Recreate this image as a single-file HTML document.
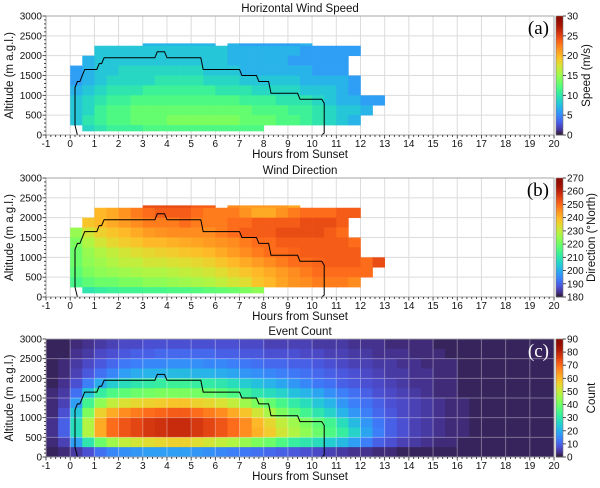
<!DOCTYPE html>
<html><head><meta charset="utf-8"><style>
body{margin:0;background:#fff}
svg{display:block;font-family:"Liberation Sans","DejaVu Sans",sans-serif}
</style></head><body>
<svg id="c" width="600" height="488" viewBox="0 0 600 488" xmlns="http://www.w3.org/2000/svg"></svg>
<script>
const xTicks=[-1,0,1,2,3,4,5,6,7,8,9,10,11,12,13,14,15,16,17,18,19,20];
const yTicks=[0,500,1000,1500,2000,2500,3000];
const rowAlts=[2250,2000,1750,1500,1250,1000,750,500,250,0];
const abColStart=0;
const speedRows=[
[null,null,null,null,null,null,7,7,7,7,7,7,null,7,6,6,6,6,6,7,null,null,null,null,null,null],
[null,null,8,8,8,8,8,8,8,8,8,8,8,7,7,7,7,7,7,6,6,6,6,6,null,null],
[null,7,8,8,8,8,8,8,8,8,8,8,8,7,7,7,7,7,6,6,6,6,6,null,null,null],
[6,7,8,8,9,9,9,9,9,9,9,8,8,8,7,7,7,7,7,7,6,6,6,null,null,null],
[6,7,8,9,9,9,9,10,10,10,10,9,9,9,8,8,8,8,8,7,7,7,7,6,null,null],
[7,8,9,10,10,10,11,11,11,11,11,11,10,10,10,9,9,9,9,8,8,8,7,6,null,null],
[8,9,10,11,11,12,12,12,12,12,12,12,12,12,11,11,11,10,10,10,9,8,7,7,6,6],
[8,9,11,12,12,13,13,13,13,13,13,13,13,13,13,12,12,12,11,11,10,9,8,8,7,null],
[8,10,11,12,12,13,13,13,14,14,14,14,14,14,13,13,13,12,12,11,10,9,8,7,null,null],
[null,9,10,11,11,11,12,12,12,12,12,12,12,12,12,12,null,null,null,null,null,null,null,null,null,null]];
const dirRows=[
[null,null,null,null,null,null,254,254,254,254,252,252,null,246,244,244,244,244,242,null,null,null,null,null,null,null],
[null,null,240,242,245,248,250,252,252,252,250,248,248,248,245,242,242,245,248,250,250,250,252,252,null,null],
[null,238,240,242,244,246,248,248,248,250,248,248,248,250,250,252,252,252,252,254,254,254,252,null,null,null],
[225,232,236,238,240,242,244,245,246,246,246,246,248,250,252,252,252,254,254,254,254,252,250,null,null,null],
[222,228,232,235,237,238,240,240,241,242,243,244,245,246,248,250,250,252,252,252,252,252,252,250,null,null],
[220,225,228,230,232,234,235,236,237,238,239,240,242,244,246,248,250,250,251,252,252,252,252,252,null,null],
[220,224,226,228,230,230,232,232,233,234,235,236,238,240,242,244,246,248,250,250,251,252,252,252,250,254],
[218,222,224,225,226,227,228,228,229,230,231,232,234,236,238,240,242,244,246,248,250,250,250,250,250,null],
[215,218,220,220,222,222,224,224,225,226,227,228,230,232,234,238,240,243,245,246,248,248,248,246,null,null],
[null,210,212,213,214,214,215,215,216,216,217,218,219,220,222,224,null,null,null,null,null,null,null,null,null,null]];
const countRowAlts=[2750,2500,2250,2000,1750,1500,1250,1000,750,500,250,0];
const countColStart=-1;
const countRows=[
[2,2,3,4,5,6,7,7,8,8,8,8,8,8,8,8,7,7,6,6,6,6,5,5,5,4,4,4,3,3,3,3,2,2,2,2,2,2,2,2,2,2],
[2,2,4,5,7,8,9,10,10,11,11,11,11,11,10,10,9,9,8,8,8,7,7,6,6,5,5,4,4,4,3,3,3,2,2,2,2,2,2,2,2,2],
[2,3,5,7,9,11,13,14,15,15,16,16,16,15,15,14,13,12,11,11,10,10,9,8,7,6,6,5,5,4,4,3,3,3,2,2,2,2,2,2,2,2],
[2,3,6,9,12,15,18,20,21,21,22,22,21,21,20,19,17,16,15,14,13,12,11,10,9,8,7,6,5,5,4,4,3,3,2,2,2,2,2,2,2,2],
[2,4,8,14,20,25,28,30,31,32,33,33,32,31,30,28,25,23,21,19,17,15,13,12,10,9,8,7,6,5,4,4,3,3,2,2,2,2,2,2,2,2],
[3,5,12,24,32,36,38,40,41,42,42,42,41,40,38,36,33,30,28,26,23,21,19,16,14,12,10,8,7,6,5,4,3,3,2,2,2,2,2,2,2,2],
[3,6,18,34,44,50,53,55,56,57,58,58,56,55,53,50,46,42,39,35,31,28,24,21,17,14,12,10,8,7,6,5,4,3,3,2,2,2,2,2,2,2],
[3,8,24,42,56,62,66,68,70,71,72,72,70,68,66,62,58,52,47,42,38,34,30,26,21,17,14,11,9,7,6,5,4,3,3,2,2,2,2,2,2,2],
[4,10,28,48,62,70,73,75,77,78,79,79,77,75,73,70,66,60,55,50,46,42,38,34,28,22,17,13,10,8,6,5,4,3,3,2,2,2,2,2,2,2],
[4,10,28,48,62,70,73,75,77,78,79,79,77,75,73,70,66,61,57,52,48,44,40,36,32,26,19,14,10,8,6,5,4,3,3,2,2,2,2,2,2,2],
[3,6,18,30,40,46,50,52,54,55,56,56,54,52,50,48,45,42,40,36,32,30,28,25,22,18,14,10,8,6,5,4,3,3,2,2,2,2,2,2,2,2],
[2,3,5,8,12,15,16,17,18,18,18,18,17,16,15,14,13,12,11,10,9,8,7,6,5,4,4,3,3,2,2,2,2,2,2,2,2,2,2,2,2,2]];
const contourHours=[0.3,0.2,0.2,0.3,0.4,0.6,1.1,1.2,1.3,1.4,3.5,3.6,3.9,4.0,5.4,5.5,7.0,7.1,7.7,7.8,8.2,8.3,9.4,9.5,10.4,10.5,10.5,10.4];
const contourAlts=[0,250,1200,1350,1350,1650,1650,1800,1800,1950,1950,2100,2100,1950,1950,1650,1650,1500,1500,1350,1350,1050,1050,900,900,800,50,0];
const speedTicks=[0,5,10,15,20,25,30];
const dirTicks=[180,190,200,210,220,230,240,250,260,270];
const countTicks=[0,10,20,30,40,50,60,70,80,90];

const NS="http://www.w3.org/2000/svg";
const svg=document.getElementById('c');
function el(tag,attrs,parent,text){const e=document.createElementNS(NS,tag);for(const k in attrs)e.setAttribute(k,attrs[k]);if(text!==undefined)e.textContent=text;(parent||svg).appendChild(e);return e;}
function turbo(t){t=Math.max(0,Math.min(1,t));
const r=0.13572138+t*(4.61539260+t*(-42.66032258+t*(132.13108234+t*(-152.94239396+t*59.28637943))));
const g=0.09140261+t*(2.19418839+t*(4.84296658+t*(-14.18503333+t*(4.27729857+t*2.82956604))));
const b=0.10667330+t*(12.64194608+t*(-60.58204836+t*(110.36276771+t*(-89.90310912+t*27.34824973))));
const c=v=>Math.round(Math.max(0,Math.min(1,v))*255);return `rgb(${c(r)},${c(g)},${c(b)})`;}
const X0=46,X1=554;
function xs(h){return X0+(h+1)*(X1-X0)/21;}
const panels=[
{key:'speed',title:'Horizontal Wind Speed',top:16,bot:135,rows:speedRows,alts:rowAlts,col0:abColStart,vmin:0,vmax:30,ticks:speedTicks,cbl:'Speed (m/s)',lab:'(a)',gridOver:false},
{key:'direction',title:'Wind Direction',top:178,bot:297,rows:dirRows,alts:rowAlts,col0:abColStart,vmin:180,vmax:270,ticks:dirTicks,cbl:'Direction (°North)',lab:'(b)',gridOver:false},
{key:'count',title:'Event Count',top:339,bot:457,rows:countRows,alts:countRowAlts,col0:countColStart,vmin:0,vmax:90,ticks:countTicks,cbl:'Count',lab:'(c)',gridOver:true}];
panels.forEach(p=>{
  const g=el('g',{});
  
  
  const ys=a=>p.bot-a*(p.bot-p.top)/3000;
  const t=el('text',{x:300,y:p.top-4,'text-anchor':'middle','font-size':11.5,fill:'#111'},g,p.title);
  
  if(p.key==='count'){el('rect',{x:X0,y:p.top,width:X1-X0,height:p.bot-p.top,fill:turbo(0.02)},g);}
  function grid(op,col){const gg=el('g',{stroke:col,'stroke-width':1,opacity:op},g);
    
    xTicks.forEach(h=>el('line',{x1:xs(h),x2:xs(h),y1:p.top,y2:p.bot},gg));
    yTicks.forEach(a=>el('line',{x1:X0,x2:X1,y1:ys(a),y2:ys(a)},gg));}
  if(!p.gridOver)grid(1,'#dcdcdc');
  const hg=el('g',{},g);
  
  p.rows.forEach((row,ri)=>{const a0=p.alts[ri];
    row.forEach((v,ci)=>{if(v===null)return;const h=p.col0+ci*0.5;
      let lo=a0,hi=a0+250;
      if(p.key!=='count'&&a0===0)lo=100;
      if(p.key!=='count'&&a0===2250)hi=2310;
      const r=el('rect',{x:xs(h),y:ys(hi),width:xs(h+0.5)-xs(h)+0.3,height:ys(lo)-ys(hi)+0.3,fill:turbo((v-p.vmin)/(p.vmax-p.vmin))},hg);
      });});
  if(p.gridOver)grid(0.35,'#ffffff');
  let d='';contourHours.forEach((h,i)=>{d+=(i?'L':'M')+xs(h).toFixed(1)+','+ys(contourAlts[i]).toFixed(1);});
  const cl=el('path',{d:d,fill:'none',stroke:'#000','stroke-width':1},g);
  
  el('rect',{x:X0,y:p.top,width:X1-X0,height:p.bot-p.top,fill:'none',stroke:'#999','stroke-width':0.8},g);
  const ax=el('g',{'font-size':10,fill:'#111'},g);
  
  for(let h=-1;h<=20.001;h+=0.2){el('line',{x1:xs(h),x2:xs(h),y1:p.bot,y2:p.bot+(Math.abs(h-Math.round(h))<0.01?3.5:2),stroke:'#222','stroke-width':0.8},ax);}
  xTicks.forEach(h=>el('text',{x:xs(h),y:p.bot+12,'text-anchor':'middle'},ax,String(h)));
  const xl=el('text',{x:300,y:p.bot+23,'text-anchor':'middle','font-size':11.5},ax,'Hours from Sunset');
  
  const ay=el('g',{'font-size':10,fill:'#111'},g);
  
  for(let a=0;a<=3000;a+=100){el('line',{x1:X0-(a%500===0?3.5:2),x2:X0,y1:ys(a),y2:ys(a),stroke:'#222','stroke-width':0.8},ay);}
  yTicks.forEach(a=>el('text',{x:X0-4,y:ys(a)+3.5,'text-anchor':'end'},ay,String(a)));
  const yl=el('text',{x:0,y:0,'text-anchor':'middle','font-size':11.5,transform:`translate(13,${(p.top+p.bot)/2}) rotate(-90)`},ay,'Altitude (m a.g.l.)');
  
  const pl=el('text',{x:549,y:p.top+18,'text-anchor':'end','font-size':19,'font-family':'Liberation Serif,serif',fill:p.key==='count'?'#fff':'#000'},g,p.lab);
  
  const cb=el('g',{},g);
  
  const N=60,H=p.bot-p.top;
  for(let i=0;i<N;i++){el('rect',{x:556,y:p.bot-(i+1)*H/N,width:7,height:H/N+0.4,fill:turbo((i+0.5)/N)},cb);}
  el('rect',{x:556,y:p.top,width:7,height:H,fill:'none',stroke:'#777','stroke-width':0.6},cb);
  p.ticks.forEach(v=>{const y=p.bot-(v-p.vmin)/(p.vmax-p.vmin)*H;
    el('line',{x1:563,x2:566,y1:y,y2:y,stroke:'#222','stroke-width':0.8},cb);
    el('text',{x:567,y:y+3.5,'font-size':10,fill:'#111'},cb,String(v));});
  const ct=el('text',{x:0,y:0,'text-anchor':'middle','font-size':11.5,fill:'#111',transform:`translate(${p.key==='speed'?590:595},${(p.top+p.bot)/2}) rotate(-90)`},cb,p.cbl);
  
});
</script>
</body></html>
